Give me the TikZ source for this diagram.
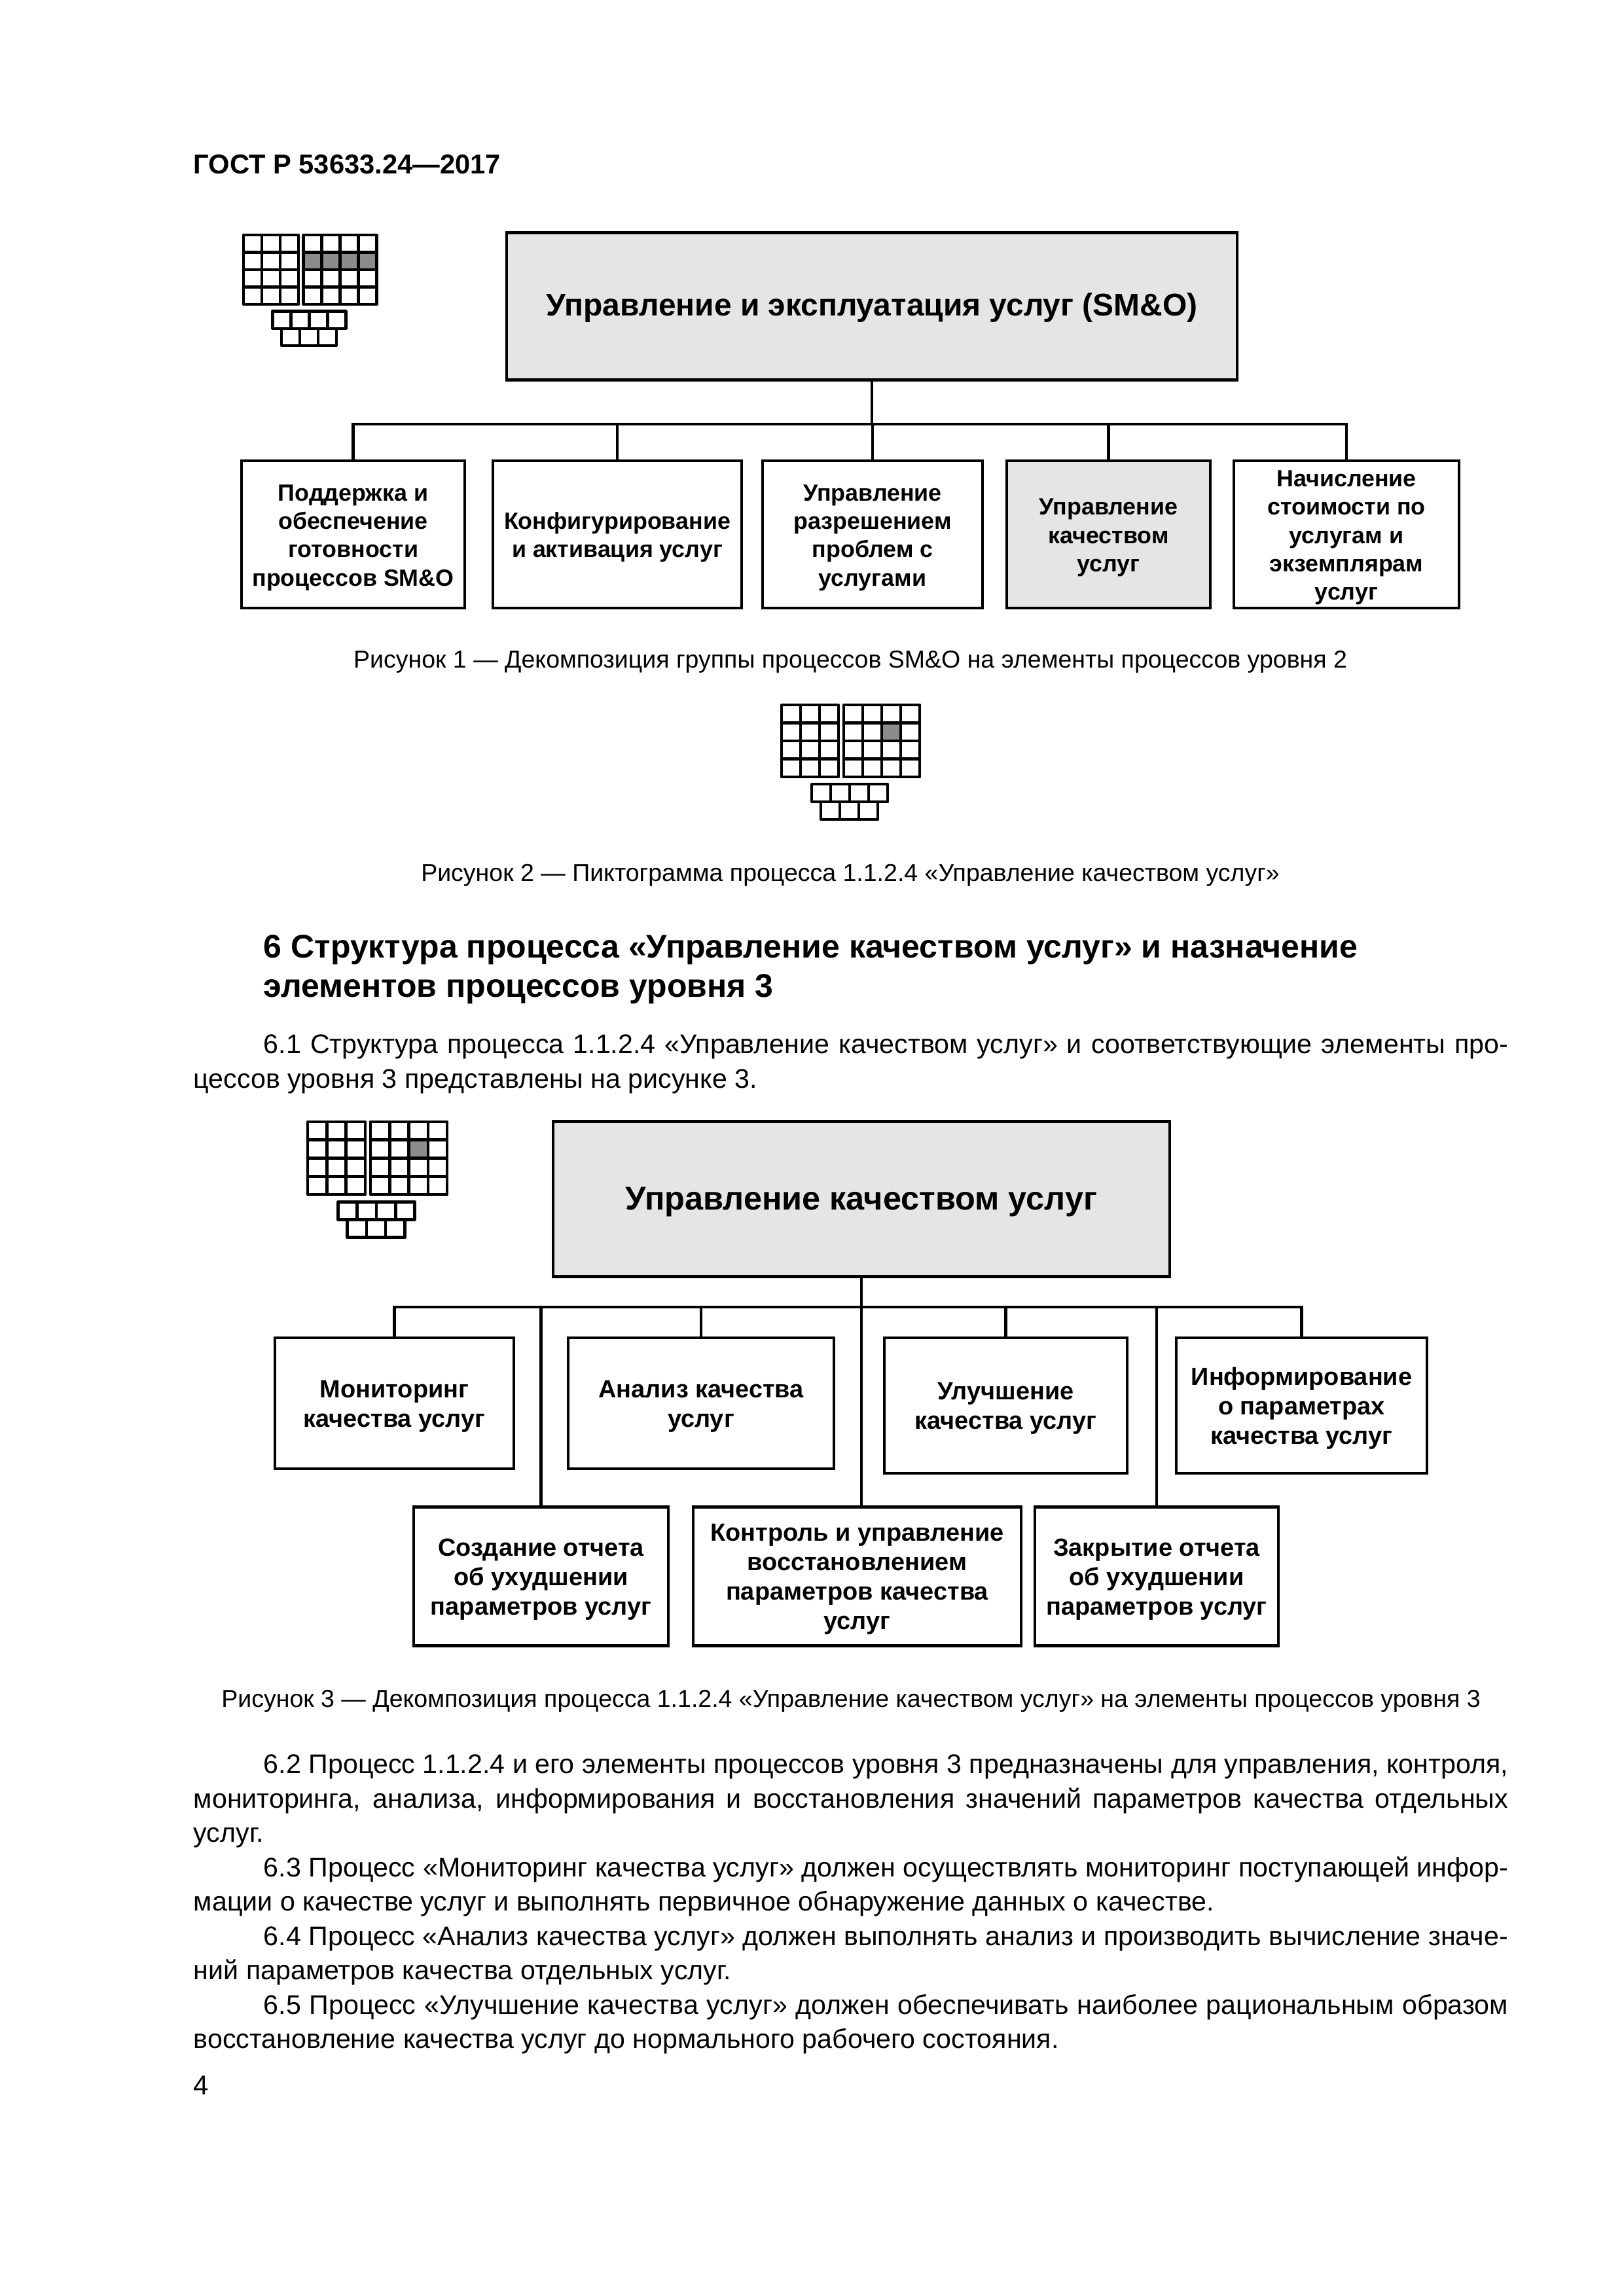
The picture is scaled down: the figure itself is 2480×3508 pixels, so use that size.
\documentclass[tikz,border=0pt]{standalone}
\usepackage{fontspec}
\setmainfont{Liberation Sans}
\usetikzlibrary{positioning, calc}
\newcommand{\boxpad}{\rule{0pt}{8.4pt}}
\tikzset{
  procbox/.style 2 args={draw=black, line width=1.1pt, fill=white, inner sep=0pt, outer sep=0pt, align=center,
    minimum width=#1*0.24pt, minimum height=#2*0.24pt, font=\fontsize{8.6}{10.4}\selectfont\bfseries},
  widebox/.style 2 args={procbox={#1}{#2}, font=\fontsize{9.1}{10.8}\selectfont\bfseries},
  topbox/.style 2 args={procbox={#1}{#2}, fill=black!10, execute at begin node={\rule{0pt}{9.4pt}}},
  treeline/.style={draw=black, line width=1.1pt},
  pictoline/.style={draw=black, line width=1.1pt, line join=round},
  bodytext/.style={anchor=north west, inner sep=0pt, text width=482pt, align=justify, font=\fontsize{9.88}{12.6}\selectfont,
    execute at begin node={\setlength{\parindent}{25.7pt}\spaceskip=0.278em plus 0.2em minus 0.16em\tolerance=9999\hbadness=10000\indent}},
  captiontext/.style={anchor=base, inner sep=0pt, font=\fontsize{9}{12}\selectfont},
}
\begin{document}
\begin{tikzpicture}[x=0.24pt, y=-0.24pt]
\useasboundingbox (0,0) rectangle (2480,3508);
% page head and foot
\node[anchor=base west, inner sep=0pt, font=\fontsize{10}{12}\selectfont\bfseries] (pagehead) at (295,266) {ГОСТ Р 53633.24—2017};
\node[anchor=base west, inner sep=0pt, font=\fontsize{10}{12}\selectfont] (pagenum) at (295,3200) {4};
% pictograms
\foreach \px/\py/\ps/\gc/\gw in {372/359/0.965/0/4, 1194/1077/1/2/1, 470/1714/1.01/2/1}{
  \begin{scope}[shift={(\px,\py)}, scale=\ps]
    \fill[black!45] ({95+\gc*29},27.5) rectangle ++({\gw*29},27.5);
    \foreach \r in {0,...,3}{
      \foreach \c in {0,...,2}{ \draw[pictoline] ({\c*29},{\r*27.5}) rectangle ++(29,27.5); }
      \foreach \c in {0,...,3}{ \draw[pictoline] ({95+\c*29},{\r*27.5}) rectangle ++(29,27.5); }
    }
    \foreach \c in {0,...,3}{ \draw[pictoline] ({46+\c*29},121) rectangle ++(29,27); }
    \foreach \c in {0,...,2}{ \draw[pictoline] ({60+\c*29},148) rectangle ++(29,27); }
  \end{scope}
}
% figure 1: level 2 decomposition
\node[topbox={1116}{225}, font=\fontsize{11.5}{14}\selectfont\bfseries] (smo) at (1332,468) {Управление и эксплуатация услуг (SM\&O)};
\coordinate (smobus) at (1332,648);
\node[procbox={341}{225}] (support) at (539.5,816.5) {\boxpad Поддержка и\\обеспечение\\готовности\\процессов SM\&O};
\node[procbox={380}{225}] (config) at (943,816.5) {\boxpad Конфигурирование\\и активация услуг};
\node[procbox={336}{225}] (problem) at (1333,816.5) {\boxpad Управление\\разрешением\\проблем с\\услугами};
\node[procbox={311}{225}, fill=black!10] (quality) at (1693.5,816.5) {\boxpad Управление\\качеством\\услуг};
\node[procbox={344}{225}] (billing) at (2057,816.5) {\boxpad Начисление\\стоимости по\\услугам и\\экземплярам\\услуг};
\foreach \n in {support,config,problem,quality,billing}{
  \draw[treeline] (smo.south) -- (smo.south |- smobus) -| (\n.north);
}
\node[captiontext] (capone) at (1299,1021) {Рисунок 1 — Декомпозиция группы процессов SM\&O на элементы процессов уровня 2};
\node[captiontext] (captwo) at (1299,1346) {Рисунок 2 — Пиктограмма процесса 1.1.2.4 «Управление качеством услуг»};
% section 6
\node[anchor=north west, inner sep=0pt, align=left, font=\fontsize{12}{14.4}\selectfont\bfseries] (sechead) at (402,1428)
  {6 Структура процесса «Управление качеством услуг» и назначение\\элементов процессов уровня 3};
\node[bodytext] (parone) at (295,1580) {6.1 Структура процесса 1.1.2.4 «Управление качеством услуг» и соответствующие элементы про-\linebreak цессов уровня 3 представлены на рисунке 3.};
% figure 3: level 3 decomposition
\node[topbox={942}{237}, font=\fontsize{12.1}{14}\selectfont\bfseries, execute at begin node={\rule{0pt}{10.2pt}}] (svc) at (1316,1832) {Управление качеством услуг};
\coordinate (svcbus) at (1316,1997);
\node[widebox={365}{200}] (monitor) at (602.5,2144) {\boxpad Мониторинг\\качества услуг};
\node[widebox={406}{200}] (analysis) at (1071,2144) {\boxpad Анализ качества\\услуг};
\node[widebox={371}{207}] (improve) at (1536.5,2147.5) {\boxpad Улучшение\\качества услуг};
\node[widebox={383}{207}] (inform) at (1988.5,2147.5) {\boxpad Информирование\\о параметрах\\качества услуг};
\node[widebox={389}{212}] (report) at (826.5,2408.5) {\boxpad Создание отчета\\об ухудшении\\параметров услуг};
\node[widebox={501}{212}] (control) at (1309.5,2408.5) {\boxpad Контроль и управление\\восстановлением\\параметров качества\\услуг};
\node[widebox={372}{212}] (closing) at (1767,2408.5) {\boxpad Закрытие отчета\\об ухудшении\\параметров услуг};
\foreach \n in {monitor,analysis,improve,inform,report,closing}{
  \draw[treeline] (svc.south) -- (svc.south |- svcbus) -| (\n.north);
}
\draw[treeline] (svc.south) -- (svc.south |- control.north);
\node[captiontext] (capthree) at (1300,2608) {Рисунок 3 — Декомпозиция процесса 1.1.2.4 «Управление качеством услуг» на элементы процессов уровня 3};
% paragraphs
\node[bodytext] (partwo) at (295,2680) {6.2 Процесс 1.1.2.4 и его элементы процессов уровня 3 предназначены для управления, контроля,\linebreak мониторинга, анализа, информирования и восстановления значений параметров качества отдельных\linebreak услуг.\par
6.3 Процесс «Мониторинг качества услуг» должен осуществлять мониторинг поступающей инфор-\linebreak мации о качестве услуг и выполнять первичное обнаружение данных о качестве.\par
6.4 Процесс «Анализ качества услуг» должен выполнять анализ и производить вычисление значе-\linebreak ний параметров качества отдельных услуг.\par
6.5 Процесс «Улучшение качества услуг» должен обеспечивать наиболее рациональным образом\linebreak восстановление качества услуг до нормального рабочего состояния.};
\end{tikzpicture}
\end{document}
